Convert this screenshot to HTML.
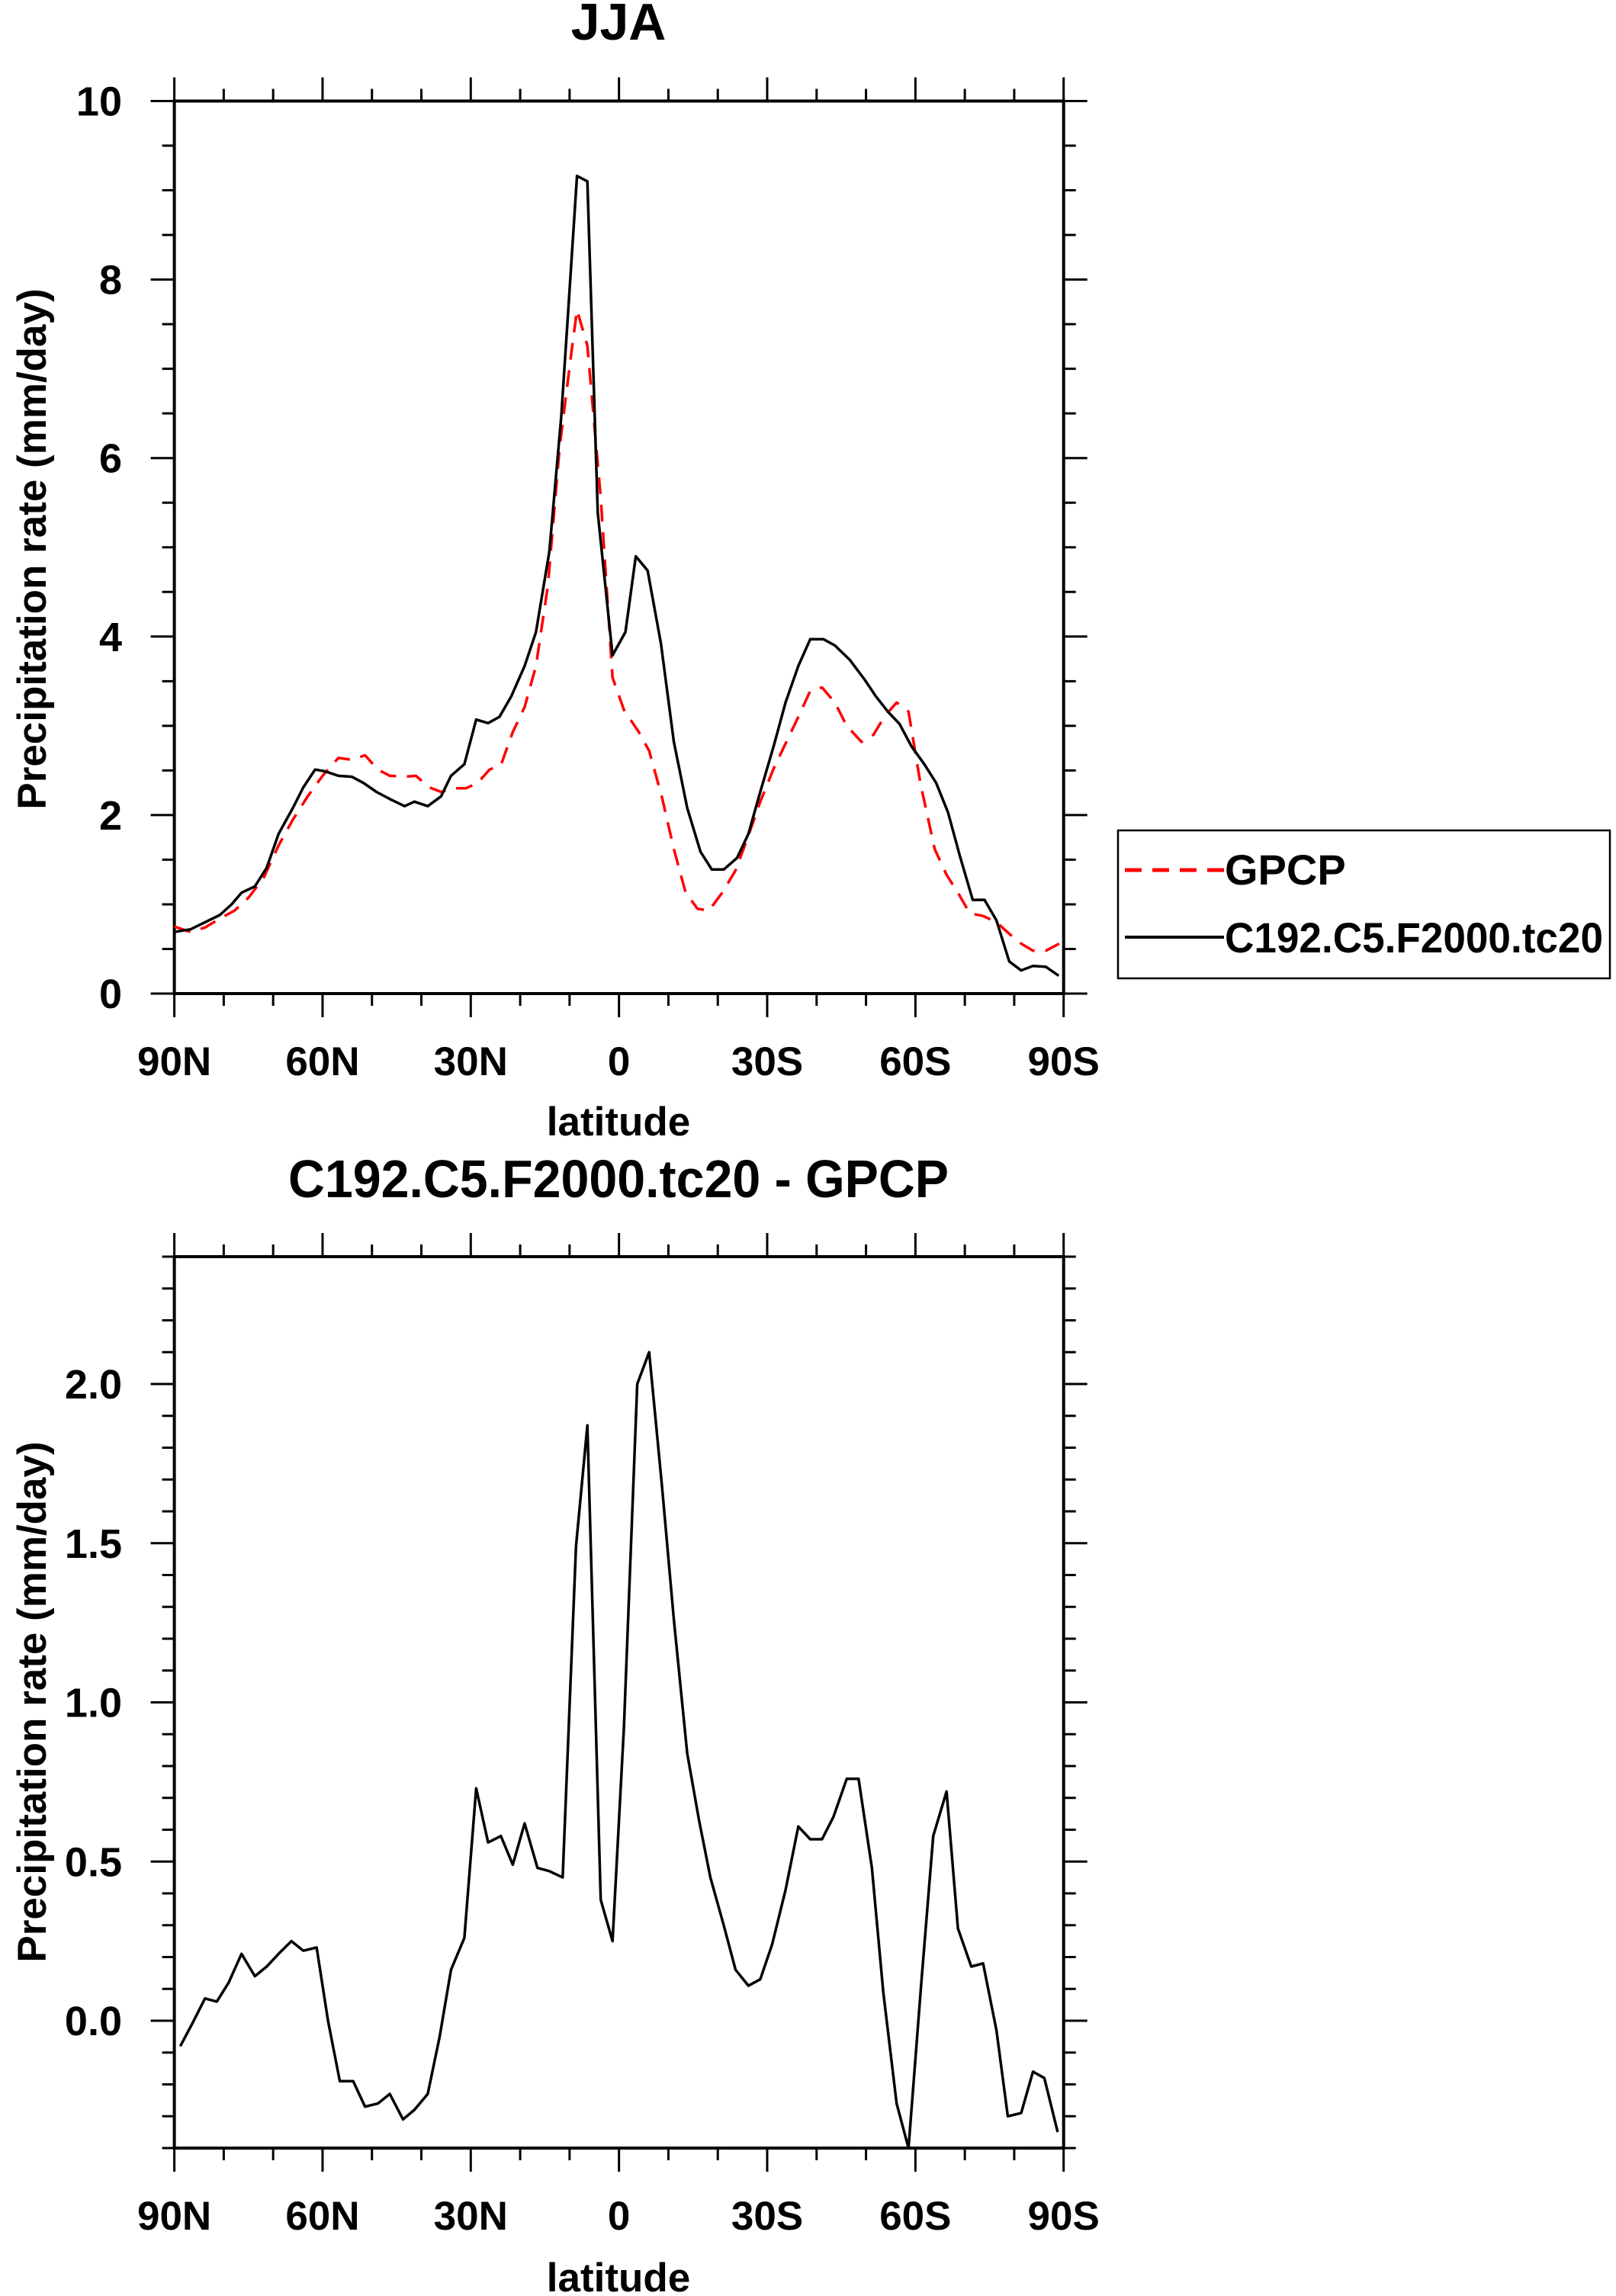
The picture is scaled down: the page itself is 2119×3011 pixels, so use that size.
<!DOCTYPE html>
<html><head><meta charset="utf-8"><style>
html,body{margin:0;padding:0;background:#fff}
svg{display:block;font-family:"Liberation Sans",sans-serif;font-weight:bold}
</style></head><body>
<svg id="c" width="2119" height="3011" viewBox="0 0 2119 3011" xmlns="http://www.w3.org/2000/svg"></svg>
<script>
const xTickLats=[90,60,30,0,-30,-60,-90];
const xTickLabels=["90N","60N","30N","0","30S","60S","90S"];
const topYTicks=[0,2,4,6,8,10];
const topYLabels=["0","2","4","6","8","10"];
const botYTicks=[0,0.5,1,1.5,2];
const botYLabels=["0.0","0.5","1.0","1.5","2.0"];
const modelLat=[90,86.7,83.8,80.8,78.4,76.4,73.7,71.3,68.9,66,63.9,61.5,59.5,56.8,54.1,51.7,49.1,46.4,43.4,41.4,38.7,36,34,31.3,28.9,26.5,24.2,21.8,19.1,16.8,14.1,11.7,10.2,8.5,6.4,4.3,1.3,-1.3,-3.4,-5.8,-8.5,-11.1,-13.8,-16.5,-18.8,-21.2,-23.9,-26.2,-28.6,-31.3,-33.7,-36.3,-38.7,-41.4,-43.7,-46.7,-49.7,-52,-54.4,-56.8,-59.2,-61.8,-64.2,-66.6,-69,-71.6,-74,-76.4,-79,-81.4,-83.8,-86.4,-89];
const modelVal=[0.69,0.72,0.8,0.88,1.0,1.13,1.2,1.41,1.79,2.08,2.31,2.51,2.49,2.44,2.43,2.36,2.26,2.18,2.1,2.15,2.1,2.21,2.44,2.57,3.07,3.03,3.1,3.33,3.67,4.05,4.95,6.46,7.72,9.16,9.1,5.39,3.79,4.05,4.9,4.74,3.92,2.82,2.08,1.59,1.39,1.39,1.52,1.79,2.26,2.77,3.26,3.67,3.97,3.97,3.9,3.74,3.52,3.33,3.16,3.02,2.77,2.57,2.36,2.03,1.54,1.05,1.05,0.82,0.36,0.26,0.31,0.3,0.2];
const gpcpLat=[90,86.7,83.8,80.8,77.8,74.9,71.9,68.9,66,63,60,56.8,54.1,51.4,48.8,46.4,43.4,41.1,38.4,36,33.4,31,28.6,26.2,23.9,21.5,19.1,16.8,14.4,12,9.6,8.5,6.4,3.7,1.3,-1,-4,-6.1,-8.7,-11.1,-13.5,-15.9,-18.2,-20.9,-23.6,-26,-28.6,-31.3,-33.7,-36.3,-38.7,-41.1,-43.7,-46.1,-49.1,-51.5,-53.8,-56.2,-58.6,-61,-63.9,-66.3,-68.6,-71,-73.7,-76.4,-79,-81.4,-83.8,-86.4,-89.1];
const gpcpVal=[0.75,0.69,0.74,0.84,0.93,1.08,1.3,1.66,1.95,2.21,2.44,2.64,2.62,2.67,2.51,2.44,2.43,2.44,2.31,2.26,2.3,2.3,2.36,2.51,2.56,2.93,3.21,3.67,4.57,6.13,7.2,7.66,7.26,5.56,3.54,3.18,2.93,2.72,2.2,1.62,1.13,0.95,0.93,1.13,1.38,1.74,2.15,2.52,2.8,3.1,3.39,3.43,3.26,3.0,2.82,2.9,3.11,3.26,3.16,2.36,1.62,1.33,1.13,0.9,0.87,0.8,0.67,0.56,0.48,0.48,0.56];
const diffLat=[88.8,86.4,83.8,81.4,79,76.4,73.7,71.3,68.9,66.3,63.9,61.2,58.9,56.5,53.8,51.4,48.8,46.4,43.7,41.4,38.7,36.3,34,31.3,28.9,26.5,23.9,21.5,19.1,16.5,14.1,11.4,8.7,6.4,3.7,1.3,-1,-3.7,-6.1,-8.7,-11.1,-13.8,-16.2,-18.5,-21.2,-23.6,-26.2,-28.6,-31,-33.7,-36.3,-38.7,-41.1,-43.4,-46.1,-48.5,-51.2,-53.5,-56.2,-58.6,-61.2,-63.6,-66.3,-68.6,-71.3,-73.7,-76.4,-78.7,-81.4,-83.8,-86.1,-88.8];
const diffVal=[-0.08,-0.01,0.07,0.06,0.12,0.21,0.14,0.17,0.21,0.25,0.22,0.23,0,-0.19,-0.19,-0.27,-0.26,-0.23,-0.31,-0.28,-0.23,-0.05,0.16,0.26,0.73,0.56,0.58,0.49,0.62,0.48,0.47,0.45,1.49,1.87,0.38,0.25,0.92,2.0,2.1,1.68,1.26,0.84,0.63,0.45,0.3,0.16,0.11,0.13,0.24,0.41,0.61,0.57,0.57,0.64,0.76,0.76,0.48,0.09,-0.26,-0.4,0.12,0.58,0.72,0.29,0.17,0.18,-0.03,-0.3,-0.29,-0.16,-0.18,-0.35];

const NS="http://www.w3.org/2000/svg";
const svg=document.getElementById('c');
function mk(tag,attrs,parent){const e=document.createElementNS(NS,tag);for(const k in attrs)e.setAttribute(k,attrs[k]);(parent||svg).appendChild(e);return e;}
const X0=228.6,X1=1394.7;
function xs(lat){return X0+(90-lat)/180*(X1-X0);}

function panel(name,top,bot,ymin,ymax,yticks,ylabels,minorStep,series){
  const g=mk('g',{});
  
  
  const ys=v=>bot-(v-ymin)/(ymax-ymin)*(bot-top);
  // minor x ticks
  for(let lat=90;lat>=-90;lat-=10){
    const x=xs(lat);const major=lat%30===0;const L=major?31:16;
    mk('line',{x1:x,y1:bot,x2:x,y2:bot+L,stroke:'#000','stroke-width':3},g);
    mk('line',{x1:x,y1:top,x2:x,y2:top-L,stroke:'#000','stroke-width':3},g);
  }
  const n=Math.round((ymax-ymin)/minorStep);
  for(let i=0;i<=n;i++){
    const v=ymin+i*minorStep;const y=ys(v);
    const major=yticks.some(t=>Math.abs(t-v)<1e-6);const L=major?31:16;
    mk('line',{x1:X0,y1:y,x2:X0-L,y2:y,stroke:'#000','stroke-width':3},g);
    mk('line',{x1:X1,y1:y,x2:X1+L,y2:y,stroke:'#000','stroke-width':3},g);
  }
  yticks.forEach((t,i)=>{
    const tx=mk('text',{x:160,y:ys(t)+19,'font-size':54,'text-anchor':'end'},g);
    tx.textContent=ylabels[i];
    
    
  });
  xTickLats.forEach((l,i)=>{
    const tx=mk('text',{x:xs(l),y:bot+107,'font-size':53,'text-anchor':'middle'},g);
    tx.textContent=xTickLabels[i];
    
    
  });
  const fr=mk('rect',{x:X0,y:top,width:X1-X0,height:bot-top,fill:'none',stroke:'#000','stroke-width':4},g);
  
  
  series.forEach(s=>{
    const pts=s.lat.map((l,i)=>xs(l).toFixed(1)+','+ys(s.val[i]).toFixed(1)).join(' ');
    const p=mk('polyline',{points:pts,fill:'none',stroke:s.color,'stroke-width':3.5,'stroke-dasharray':s.dash||'none','stroke-linejoin':'round'},g);
    
    
  });
  return ys;
}
panel('top-panel',132.5,1303,0,10,topYTicks,topYLabels,0.5,[
  {lat:gpcpLat,val:gpcpVal,color:'#f00',dash:'22,14',name:'gpcp-line'},
  {lat:modelLat,val:modelVal,color:'#000',name:'model-line'}]);
panel('bottom-panel',1648,2817,-0.4,2.4,botYTicks,botYLabels,0.1,[
  {lat:diffLat,val:diffVal,color:'#000',name:'difference-line'}]);

function txt(s,attrs,name){const t=mk('text',attrs);t.textContent=s;return t;}
txt('JJA',{x:811,y:52,'font-size':68,'text-anchor':'middle'},'top-title');
txt('C192.C5.F2000.tc20 - GPCP',{x:811,y:1570,'font-size':70,'text-anchor':'middle',textLength:866,lengthAdjust:'spacingAndGlyphs'},'bottom-title');
txt('latitude',{x:811,y:1489,'font-size':53,'text-anchor':'middle'},'top-x-axis-title');
txt('latitude',{x:811,y:3005,'font-size':53,'text-anchor':'middle'},'bottom-x-axis-title');
txt('Precipitation rate (mm/day)',{x:0,y:0,'font-size':53,'text-anchor':'middle',transform:'translate(60,720) rotate(-90)'},'top-y-axis-title');
txt('Precipitation rate (mm/day)',{x:0,y:0,'font-size':53,'text-anchor':'middle',transform:'translate(60,2232) rotate(-90)'},'bottom-y-axis-title');

const lg=mk('g',{});


mk('rect',{x:1466,y:1089,width:645,height:194,fill:'#fff',stroke:'#000','stroke-width':2.5},lg);
mk('line',{x1:1475,y1:1141,x2:1605,y2:1141,stroke:'#f00','stroke-width':5,'stroke-dasharray':'22,14'},lg);
mk('line',{x1:1475,y1:1229,x2:1605,y2:1229,stroke:'#000','stroke-width':4},lg);
const l1=mk('text',{x:1606,y:1160,'font-size':56},lg);l1.textContent='GPCP';


const l2=mk('text',{x:1606,y:1249,'font-size':56,textLength:496,lengthAdjust:'spacingAndGlyphs'},lg);l2.textContent='C192.C5.F2000.tc20';


</script>
</body></html>
